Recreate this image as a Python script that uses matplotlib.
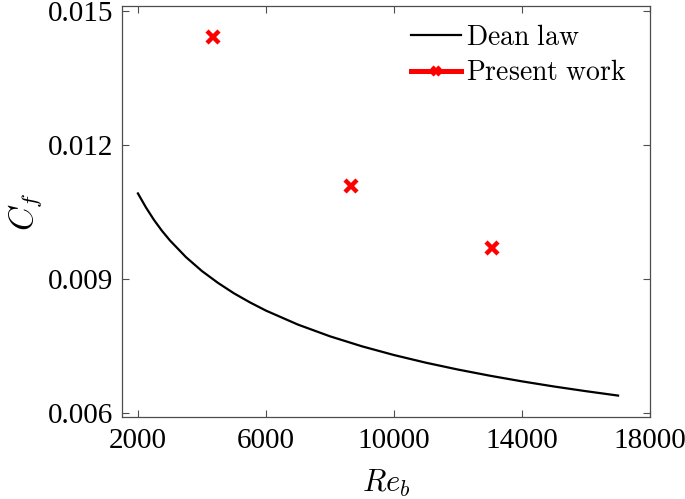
import numpy as np
import matplotlib
matplotlib.use('Agg')
import matplotlib.pyplot as plt
from matplotlib.lines import Line2D

plt.rcParams['font.family'] = 'Liberation Serif'
plt.rcParams['mathtext.fontset'] = 'cm'

# Dean law curve
re_dean = [2000, 2250, 2500, 2750, 3000, 3500, 4000, 4500, 5000, 5500, 6000, 7000, 8000, 9000,
           10000, 11000, 12000, 13000, 14000, 15000, 16000, 17000]
cf_dean = [0.010916, 0.010603, 0.010324, 0.010080, 0.009864, 0.009491, 0.009179, 0.008915,
           0.008681, 0.008478, 0.008294, 0.007981, 0.007719, 0.007495, 0.0073, 0.007128,
           0.006975, 0.006837, 0.006711, 0.006596, 0.006491, 0.006393]

# present work points
re_pw = [4350, 8650, 13050]
cf_pw = [0.01441, 0.01109, 0.00969]

xticks = [2000, 6000, 10000, 14000, 18000]
yticks = [0.006, 0.009, 0.012, 0.015]

fig, ax = plt.subplots(figsize=(6.85, 4.99), dpi=100)
fig.subplots_adjust(left=0.178, right=0.949, top=0.988, bottom=0.164)

ax.plot(re_dean, cf_dean, color='black', lw=1.6)
ax.plot(re_pw, cf_pw, linestyle='none', marker='x', color='red', ms=9, mew=3.2)

handles = [Line2D([], [], color='black', lw=1.6),
           Line2D([], [], color='red', lw=3.6, marker='x', ms=6, mew=3.2)]
leg = ax.legend(handles, [r'$\mathrm{Dean\ law}$', r'$\mathrm{Present\ work}$'],
                loc='upper right', bbox_to_anchor=(638 / 685, 1 - 14 / 499),
                bbox_transform=fig.transFigure, frameon=False,
                fontsize=20, handlelength=1.8, handletextpad=0.2, labelspacing=0.37,
                borderaxespad=0, borderpad=0.4)
for t in leg.get_texts():
    t.set_math_fontfamily('cm')

ax.set_xlim(1500, 18000)
ax.set_ylim(0.00591, 0.01511)
ax.set_xticks(xticks)
ax.set_yticks(yticks)
ax.set_xticklabels([str(v) for v in xticks])
ax.set_yticklabels(['%.3f' % v for v in yticks])
ax.tick_params(direction='in', top=True, right=True, labelsize=21, length=5,
               width=0.8, color='0.3')
ax.tick_params(axis='y', pad=6)
ax.tick_params(axis='x', pad=8)
for s in ax.spines.values():
    s.set_color('0.3')
    s.set_linewidth(0.9)

ax.set_xlabel('$Re_b$', fontsize=22, labelpad=10)
ax.set_ylabel('$C_f$', fontsize=24, labelpad=3)

fig.savefig('out.png', dpi=100)
